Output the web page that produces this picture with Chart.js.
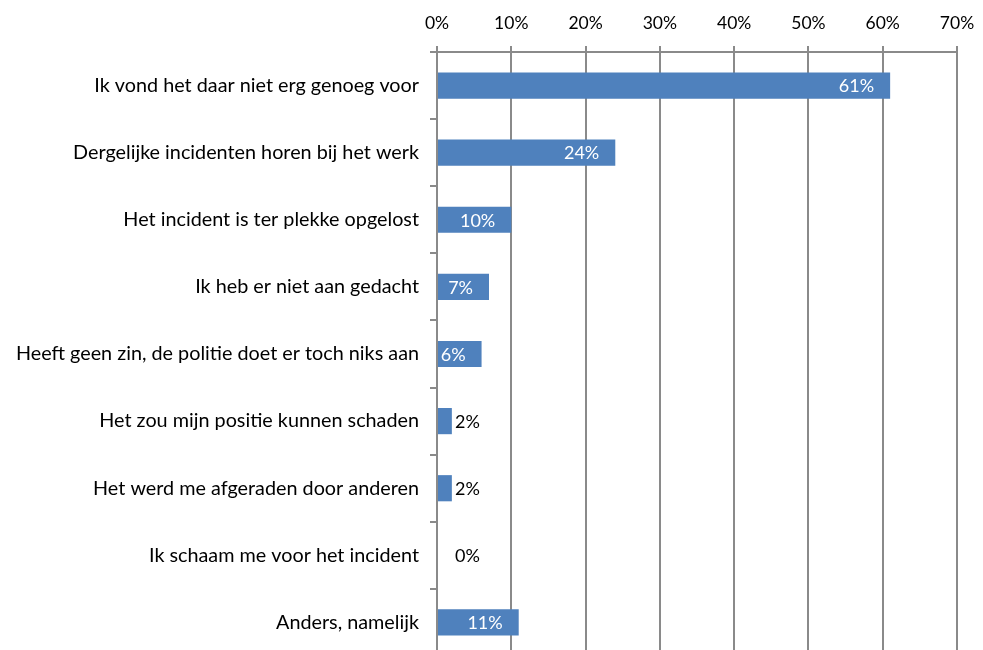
<!DOCTYPE html>
<html>
<head>
<meta charset="utf-8">
<script src="https://cdn.jsdelivr.net/npm/chart.js@4"></script>
<style>
  html, body { margin: 0; padding: 0; background: #fff; overflow: hidden; }
</style>
</head>
<body>
<canvas id="chart" width="983" height="660"></canvas>
<script>
const categories = [
  "Ik vond het daar niet erg genoeg voor",
  "Dergelijke incidenten horen bij het werk",
  "Het incident is ter plekke opgelost",
  "Ik heb er niet aan gedacht",
  "Heeft geen zin, de politie doet er toch niks aan",
  "Het zou mijn positie kunnen schaden",
  "Het werd me afgeraden door anderen",
  "Ik schaam me voor het incident",
  "Anders, namelijk"
]
const percentages = [61, 24, 10, 7, 6, 2, 2, 0, 11]
const axisMax = 70
const axisStep = 10

const FONT = "Lato, 'Open Sans', sans-serif"
const GRID = "#8a8a8a"

// value labels: white inside the bar end, black just past short bars
const barLabels = {
  id: "barLabels",
  afterDatasetsDraw(chart) {
    const ctx = chart.ctx
    const meta = chart.getDatasetMeta(0)
    const x = chart.scales.x
    ctx.save()
    ctx.font = "18px " + FONT
    ctx.textBaseline = "middle"
    meta.data.forEach((bar, i) => {
      const v = percentages[i]
      const text = v + "%"
      if (v >= 5) {
        ctx.fillStyle = "#ffffff"
        ctx.textAlign = "right"
        ctx.fillText(text, bar.x - 16, bar.y + 1)
      } else {
        ctx.fillStyle = "#000000"
        ctx.textAlign = "left"
        ctx.fillText(text, Math.max(bar.x, x.left + 15) + 3, bar.y + 1)
      }
    })
    ctx.restore()
  }
}

new Chart(document.getElementById("chart"), {
  type: "bar",
  data: {
    labels: categories,
    datasets: [{
      data: percentages,
      backgroundColor: "#4f81bd",
      borderWidth: 0,
      barPercentage: 0.39,
      categoryPercentage: 1.0
    }]
  },
  options: {
    indexAxis: "y",
    responsive: false,
    animation: false,
    layout: { padding: { top: 0, right: 26, bottom: 4, left: 0 } },
    plugins: {
      legend: { display: false },
      tooltip: { enabled: false }
    },
    scales: {
      x: {
        position: "top",
        min: 0,
        max: axisMax,
        afterFit(scale) {
          scale.height = 52
          scale.paddingLeft = 0
          scale.paddingRight = 0
        },
        ticks: {
          stepSize: axisStep,
          color: "#000",
          padding: 12,
          font: { family: FONT, size: 17.5 },
          callback: (v) => v + "%"
        },
        grid: { color: GRID, lineWidth: 2, tickLength: 6 },
        border: { color: GRID, width: 2 }
      },
      y: {
        afterFit(scale) {
          scale.width = 437
          scale.paddingTop = 0
          scale.paddingBottom = 0
        },
        ticks: {
          color: "#000",
          padding: 11,
          font: { family: FONT, size: 19.8 }
        },
        grid: { drawOnChartArea: false, color: GRID, lineWidth: 2, tickLength: 7 },
        border: { color: GRID, width: 2 }
      }
    }
  },
  plugins: [barLabels]
})
</script>
</body>
</html>
